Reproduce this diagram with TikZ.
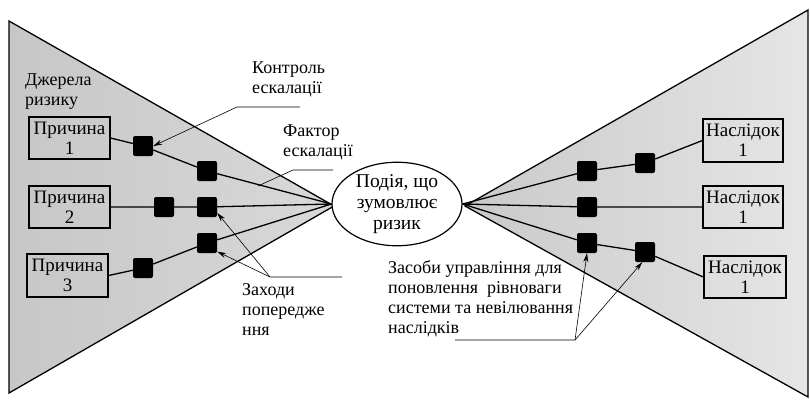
\documentclass[tikz,border=0pt]{standalone}
\usepackage{fontspec}
\setmainfont{Liberation Serif}
\usetikzlibrary{arrows.meta,positioning,shapes.geometric}

\begin{document}
\begin{tikzpicture}[x=1pt, y=-1pt,
    every node/.style={font=\fontsize{18}{20}\selectfont},
    box/.style={rectangle, draw, line width=1.2pt, align=center, inner sep=0pt,
                minimum width=81pt, minimum height=42pt,
                font=\fontsize{19}{20}\selectfont},
    ctl/.style={rectangle, fill=black, minimum size=20pt, inner sep=0pt,
                rounded corners=2pt},
    ev/.style={ellipse, draw, line width=1.2pt, fill=white, align=center,
               minimum width=130pt, minimum height=82pt, inner sep=0pt,
               font=\fontsize{19.5}{21}\selectfont},
    txt/.style={align=left, anchor=west, inner sep=0pt},
    ln/.style={line width=1.3pt},
    e/.style={-{Stealth[length=9pt, width=5pt]}, line width=0.6pt},
    ld/.style={line width=0.6pt},
  ]
  \useasboundingbox (0,0) rectangle (810,400);
  % two wings
  \draw[ln, left color=black!22, right color=black!15] (9,21) -- (334,206) -- (9,393) -- cycle;
  \draw[ln, left color=black!21, right color=black!10] (465,206) -- (808,10) -- (808,397) -- cycle;

  \node[ev] (event) at (397,204) {Подія, що\\зумовлює\\ризик};
  \node[box] (c1) at (69.5,138) {Причина\\1};
  \node[box] (c2) at (69.5,207) {Причина\\2};
  \node[box, minimum height=43pt] (c3) at (67.5,275.5) {Причина\\3};
  \node[box, minimum width=80pt, minimum height=43pt] (r1) at (743,140.5) {Наслідок\\1};
  \node[box, minimum width=80pt] (r2) at (743,207) {Наслідок\\1};
  \node[box, minimum width=82pt] (r3) at (745,277) {Наслідок\\1};

  \node[ctl] (s11) at (143,146) {};
  \node[ctl] (s12) at (207,171) {};
  \node[ctl] (s21) at (164,207) {};
  \node[ctl] (s22) at (207,207) {};
  \node[ctl] (s31) at (143,268) {};
  \node[ctl] (s32) at (207,243) {};
  \node[ctl] (q11) at (587,171) {};
  \node[ctl] (q12) at (645,163) {};
  \node[ctl] (q21) at (587,207) {};
  \node[ctl] (q31) at (587,243) {};
  \node[ctl] (q32) at (645,252) {};

  \draw[ln] (c1.east) -- (s11) -- (s12) -- (event.west);
  \draw[ln] (c2.east) -- (s21) -- (s22) -- (event.west);
  \draw[ln] (c3.east) -- (s31) -- (s32) -- (event.west);
  \draw[ln] (event.east) -- (q11) -- (q12) -- (r1.west);
  \draw[ln] (event.east) -- (q21) -- (r2.west);
  \draw[ln] (event.east) -- (q31) -- (q32) -- (r3.west);

  \node[txt] (src) at (25,92) {Джерела\\ризику};
  \node[txt] (escctl) at (252,79) {Контроль\\ескалації};
  \node[txt] (escfac) at (283,142) {Фактор\\ескалації};
  \node[txt] (prev) at (242,310) {Заходи\\попередже\\ння};
  \node[txt] (means) at (388,298.5) {Засоби управління для\\поновлення\ \ рівноваги\\системи та невілювання\\наслідків};

  % leaders
  \coordinate (ka) at (300,107);
  \coordinate (kb) at (237,107);
  \coordinate (fa) at (333,170);
  \coordinate (fb) at (293,170);
  \coordinate (fc) at (258,186);
  \coordinate (za) at (342,277);
  \coordinate (zb) at (270,277);
  \coordinate (ma) at (455,340);
  \coordinate (mb) at (575,340);
  \draw[e] (ka) -- (kb) -- (s11.east);
  \draw[ld] (fa) -- (fb) -- (fc);
  \draw[e] (za) -- (zb) -- (s22.-30);
  \draw[e] (zb) -- (s32.-40);
  \draw[e] (ma) -- (mb) -- (q31.south);
  \draw[e] (mb) -- (q32.-105);
\end{tikzpicture}
\end{document}
